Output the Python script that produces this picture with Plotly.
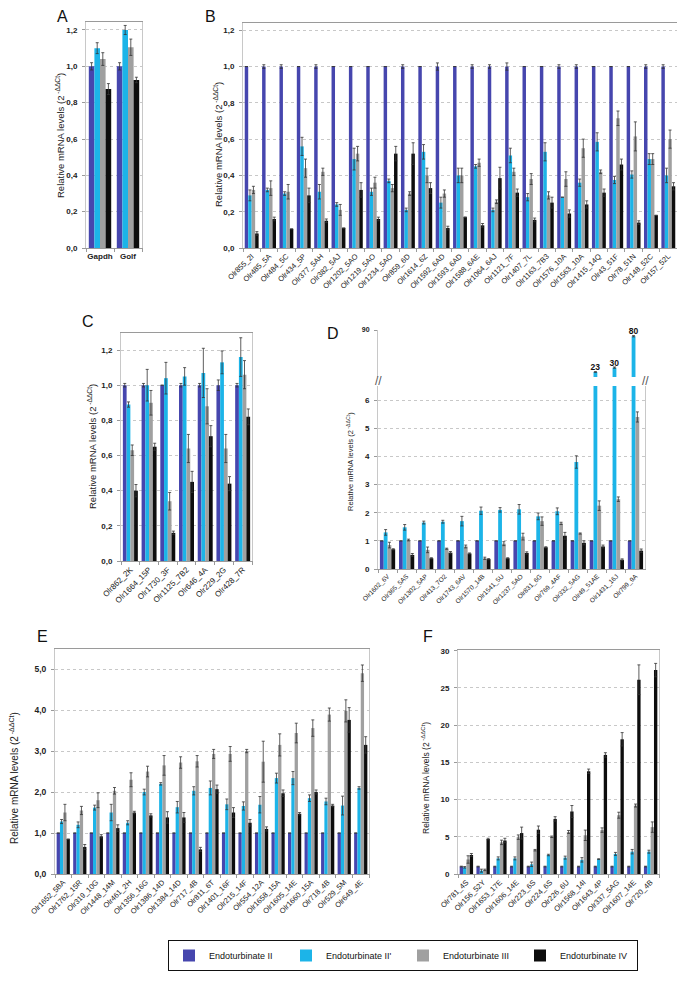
import plotly.graph_objects as go

# the page body adds an 8px margin, so the figure is sized to fit inside it
PAGE_W, PAGE_H = 685, 981
OFFSET = 8
W, H = PAGE_W - OFFSET, PAGE_H - OFFSET
FONT = "Liberation Sans, Arial, sans-serif"

SERIES = ["Endoturbinate II", "Endoturbinate II'", "Endoturbinate III", "Endoturbinate IV"]
COLORS = ["#4646ae", "#1cb4e8", "#a0a0a0", "#0d0d0d"]

# --- panel A
A_GENES = ["Gapdh", "Golf"]
A_II = [1.0, 1.0]
A_II_ERR = [0.02, 0.02]
A_IIP = [1.10, 1.20]
A_IIP_ERR = [0.03, 0.025]
A_III = [1.04, 1.105]
A_III_ERR = [0.035, 0.045]
A_IV = [0.875, 0.925]
A_IV_ERR = [0.03, 0.015]

# --- panel B
B_GENES = ["Olr855_2I", "Olr485_5A", "Olr484_5C", "Olr434_5P", "Olr377_5AH", "Olr382_5AJ",
           "Olr1202_5AO", "Olr1219_5AO", "Olr1234_5AO", "Olr859_6D", "Olr1614_6Z", "Olr1592_6AD",
           "Olr1593_6AD", "Olr1588_6AE", "Olr1064_6AJ", "Olr1121_7F", "Olr1407_7L", "Olr1163_7B3",
           "Olr1576_10A", "Olr1563_10A", "Olr1415_14Q", "Olr43_51F", "Olr78_51N", "Olr148_52C",
           "Olr157_52L"]
B_II = [1.0, 1.0, 1.0, 1.0, 1.0, 1.0, 1.0, 1.0, 1.0, 1.0, 1.0, 1.0, 1.0,
        1.0, 1.0, 1.0, 1.0, 1.0, 1.0, 1.0, 1.0, 1.0, 1.0, 1.0, 1.0]
B_II_ERR = [0.0, 0.01, 0.01, 0.0, 0.01, 0.0, 0.0, 0.0, 0.0, 0.01, 0.0, 0.02, 0.0,
            0.01, 0.01, 0.02, 0.0, 0.0, 0.01, 0.01, 0.0, 0.0, 0.0, 0.01, 0.01]
B_IIP = [0.29, 0.32, 0.30, 0.56, 0.31, 0.24, 0.49, 0.31, 0.37, 0.21, 0.53, 0.25, 0.40,
         0.45, 0.21, 0.51, 0.28, 0.53, 0.28, 0.36, 0.585, 0.375, 0.405, 0.49, 0.40]
B_IIP_ERR = [0.03, 0.01, 0.01, 0.05, 0.04, 0.01, 0.06, 0.02, 0.01, 0.01, 0.04, 0.03, 0.04,
             0.01, 0.01, 0.04, 0.02, 0.05, 0.0, 0.02, 0.05, 0.02, 0.02, 0.03, 0.04]
B_III = [0.32, 0.33, 0.31, 0.44, 0.42, 0.21, 0.52, 0.36, 0.33, 0.30, 0.40, 0.30, 0.40,
         0.47, 0.255, 0.42, 0.38, 0.29, 0.38, 0.55, 0.42, 0.715, 0.615, 0.49, 0.60]
B_III_ERR = [0.02, 0.04, 0.04, 0.05, 0.02, 0.03, 0.04, 0.03, 0.02, 0.01, 0.04, 0.02, 0.04,
             0.02, 0.01, 0.02, 0.03, 0.02, 0.04, 0.05, 0.01, 0.04, 0.08, 0.03, 0.05]
B_IV = [0.08, 0.16, 0.105, 0.29, 0.15, 0.11, 0.32, 0.16, 0.52, 0.52, 0.33, 0.11, 0.17,
        0.125, 0.385, 0.305, 0.155, 0.25, 0.19, 0.24, 0.305, 0.46, 0.14, 0.18, 0.34]
B_IV_ERR = [0.01, 0.01, 0.0, 0.04, 0.01, 0.0, 0.04, 0.01, 0.04, 0.06, 0.03, 0.01, 0.0,
            0.01, 0.06, 0.02, 0.01, 0.03, 0.02, 0.02, 0.02, 0.03, 0.01, 0.0, 0.02]

# --- panel C
C_GENES = ["Olr862_2K", "Olr1664_15P", "Olr1730_3F", "Olr1125_7B2", "Olr646_4A", "Olr229_2G", "Olr428_7R"]
C_II = [1.0, 1.0, 1.0, 1.0, 1.0, 1.0, 1.0]
C_II_ERR = [0.01, 0.01, 0.0, 0.01, 0.01, 0.03, 0.01]
C_IIP = [0.89, 1.0, 1.04, 1.05, 1.07, 1.13, 1.16]
C_IIP_ERR = [0.015, 0.09, 0.09, 0.05, 0.14, 0.065, 0.11]
C_III = [0.63, 0.90, 0.34, 0.64, 0.88, 0.64, 1.06]
C_III_ERR = [0.03, 0.07, 0.05, 0.08, 0.10, 0.08, 0.08]
C_IV = [0.40, 0.65, 0.16, 0.45, 0.71, 0.44, 0.82]
C_IV_ERR = [0.035, 0.02, 0.01, 0.06, 0.06, 0.04, 0.045]

# --- panel D (broken axis)
D_GENES = ["Olr1602_6V", "Olr365_5AS", "Olr1302_5AP", "Olr413_7O2", "Olr1743_6AV", "Olr1570_14B",
           "Olr1541_5U", "Olr1237_5AO", "Olr831_6G", "Olr769_4AF", "Olr332_5AG", "Olr49_51AE",
           "Olr1431_16J", "Olr799_9A"]
D_II = [1.0, 1.0, 1.0, 1.0, 1.0, 1.0, 1.0, 1.0, 1.0, 1.0, 1.0, 1.0, 1.0, 1.0]
D_II_ERR = [0.0, 0.0, 0.0, 0.0, 0.0, 0.0, 0.0, 0.0, 0.0, 0.0, 0.0, 0.0, 0.0, 0.0]
D_IIP = [1.3, 1.48, 1.65, 1.68, 1.7, 2.07, 2.1, 2.12, 1.87, 2.05, 3.8, 23, 30, 80]
D_IIP_ERR = [0.1, 0.1, 0.05, 0.05, 0.17, 0.13, 0.08, 0.17, 0.12, 0.12, 0.22, 0.5, 1.0, 1.0]
D_III = [0.85, 1.03, 0.68, 0.72, 0.8, 0.38, 0.9, 1.15, 1.7, 1.62, 1.26, 2.25, 2.48, 5.4]
D_III_ERR = [0.1, 0.03, 0.1, 0.02, 0.05, 0.04, 0.07, 0.12, 0.15, 0.04, 0.02, 0.17, 0.08, 0.18]
D_IV = [0.7, 0.5, 0.38, 0.58, 0.55, 0.35, 0.38, 0.57, 0.77, 1.18, 0.93, 0.8, 0.33, 0.65]
D_IV_ERR = [0.02, 0.05, 0.02, 0.04, 0.02, 0.02, 0.02, 0.04, 0.02, 0.12, 0.07, 0.05, 0.03, 0.06]
D_LOW_RANGE = [0, 6.5]
D_HIGH_RANGE = [15, 90]

# --- panel E
E_GENES = ["Olr1652_5BA", "Olr1762_15R", "Olr319_10G", "Olr1448_14M", "Olr461_2H", "Olr1356_16G",
           "Olr1386_14D", "Olr1384_14D", "Olr717_4B", "Olr811_6T", "Olr1401_16F", "Olr215_14F",
           "Olr554_12A", "Olr1658_15A", "Olr1605_14E", "Olr1660_15A", "Olr718_4B", "Olr529_5M",
           "Olr649_4E"]
E_II = [1.0, 1.0, 1.0, 1.0, 1.0, 1.0, 1.0, 1.0, 1.0, 1.0, 1.0, 1.0, 1.0, 1.0, 1.0, 1.0, 1.0, 1.0, 1.0]
E_II_ERR = [0.0, 0.0, 0.0, 0.0, 0.0, 0.0, 0.0, 0.0, 0.0, 0.0, 0.0, 0.0, 0.0, 0.0, 0.0, 0.0, 0.0, 0.0, 0.0]
E_IIP = [1.28, 1.2, 1.62, 1.5, 1.25, 2.0, 2.2, 1.63, 2.03, 2.1, 1.7, 1.66, 1.69, 2.34, 2.34,
         1.85, 1.77, 1.67, 2.1]
E_IIP_ERR = [0.05, 0.07, 0.06, 0.2, 0.05, 0.07, 0.03, 0.14, 0.1, 0.17, 0.13, 0.1, 0.2, 0.12,
             0.16, 0.08, 0.08, 0.23, 0.03]
E_III = [1.5, 1.55, 1.8, 2.03, 2.3, 2.5, 2.65, 2.72, 2.75, 2.93, 2.93, 3.0, 2.74, 3.15, 3.44,
         3.56, 3.89, 3.98, 4.9]
E_III_ERR = [0.2, 0.1, 0.18, 0.08, 0.17, 0.13, 0.24, 0.14, 0.14, 0.11, 0.18, 0.04, 0.5, 0.27,
             0.24, 0.2, 0.16, 0.27, 0.2]
E_IV = [0.85, 0.66, 0.92, 1.12, 1.5, 1.43, 1.38, 1.38, 0.6, 2.07, 1.5, 1.25, 1.1, 1.97, 1.47,
        2.0, 1.67, 3.76, 3.15]
E_IV_ERR = [0.0, 0.06, 0.04, 0.08, 0.03, 0.04, 0.14, 0.12, 0.05, 0.1, 0.12, 0.08, 0.05, 0.08,
            0.03, 0.05, 0.03, 0.3, 0.2]

# --- panel F
F_GENES = ["Olr781_4S", "Olr156_52Y", "Olr1653_17E", "Olr1606_14E", "Olr223_6S", "Olr224_6S",
           "Olr226_6U", "Olr1568_14I", "Olr1643_4P", "Olr337_5AG", "Olr1607_14E", "Olr720_4B"]
F_II = [1.0, 1.0, 1.0, 1.0, 1.0, 1.0, 1.0, 1.0, 1.0, 1.0, 1.0, 1.0]
F_II_ERR = [0.05, 0.05, 0.05, 0.05, 0.05, 0.05, 0.05, 0.05, 0.05, 0.05, 0.05, 0.05]
F_IIP = [0.9, 0.45, 2.1, 2.1, 1.3, 2.55, 2.2, 1.9, 2.0, 2.7, 3.0, 3.0]
F_IIP_ERR = [0.1, 0.2, 0.2, 0.2, 0.3, 0.1, 0.2, 0.3, 0.05, 0.2, 0.3, 0.2]
F_III = [1.95, 0.55, 4.25, 4.95, 3.2, 5.0, 5.65, 5.2, 5.9, 7.9, 9.2, 6.3]
F_III_ERR = [0.5, 0.1, 0.3, 0.3, 0.1, 0.1, 0.2, 0.7, 0.3, 0.4, 0.2, 0.7]
F_IV = [2.55, 4.7, 4.5, 5.5, 5.95, 7.4, 8.4, 13.8, 16.0, 18.1, 26.1, 27.4]
F_IV_ERR = [0.2, 0.1, 0.3, 0.8, 0.5, 0.3, 0.8, 0.3, 0.3, 0.9, 2.0, 0.9]

YTITLE = "Relative mRNA levels (2<sup> -ΔΔCt</sup>)"
GRID = "#c8c8c8"
FRAME = "#c8c8c8"
AXIS = "#9a9a9a"


def px(x):
    return (x - OFFSET) / W


def py(y):
    return 1 - (y - OFFSET) / H


def add_bars(fig, xa, ya, genes, vals, errs, legend=False):
    for i, (name, color, v, e) in enumerate(zip(SERIES, COLORS, vals, errs)):
        fig.add_trace(
            go.Bar(
                x=genes,
                y=v,
                name=name,
                marker=dict(color=color, line=dict(width=0)),
                width=0.2,
                offset=-0.4 + 0.2 * i,
                error_y=dict(type="data", array=e, color="#333333", thickness=0.8, width=1.5),
                xaxis=xa,
                yaxis=ya,
                showlegend=legend,
                legendgroup=name,
                hovertemplate="%{x}<br>" + name + ": %{y}<extra></extra>",
            )
        )


def xaxis_cfg(left, right, anchor, angle=-45, size=7.5, bold=False, mirror=True):
    return dict(
        domain=[px(left), px(right)],
        anchor=anchor,
        type="category",
        tickson="boundaries",
        ticks="outside",
        ticklen=3,
        tickcolor=AXIS,
        tickangle=angle,
        tickfont=dict(size=size, color="#222", weight="bold" if bold else "normal"),
        showline=True,
        linecolor=AXIS,
        mirror=mirror,
        showgrid=False,
        automargin=False,
        fixedrange=True,
    )


def yaxis_cfg(top, bottom, anchor, rng, dtick, fmt, size=8, mirror=True):
    return dict(
        domain=[py(bottom), py(top)],
        anchor=anchor,
        range=rng,
        dtick=dtick,
        tick0=0,
        tickformat=fmt,
        showgrid=True,
        gridcolor=GRID,
        griddash="dot",
        gridwidth=1,
        showline=True,
        linecolor=FRAME,
        mirror=mirror,
        ticks="outside",
        ticklen=3,
        tickcolor=AXIS,
        ticklabelstandoff=3,
        tickfont=dict(size=size, color="#222", weight="bold"),
        zeroline=False,
        automargin=False,
        fixedrange=True,
    )


fig = go.Figure()

add_bars(fig, "x", "y", A_GENES, [A_II, A_IIP, A_III, A_IV],
         [A_II_ERR, A_IIP_ERR, A_III_ERR, A_IV_ERR], legend=True)
add_bars(fig, "x2", "y2", B_GENES, [B_II, B_IIP, B_III, B_IV],
         [B_II_ERR, B_IIP_ERR, B_III_ERR, B_IV_ERR])
add_bars(fig, "x3", "y3", C_GENES, [C_II, C_IIP, C_III, C_IV],
         [C_II_ERR, C_IIP_ERR, C_III_ERR, C_IV_ERR])
add_bars(fig, "x4", "y4", D_GENES, [D_II, D_IIP, D_III, D_IV],
         [D_II_ERR, D_IIP_ERR, D_III_ERR, D_IV_ERR])
add_bars(fig, "x5", "y5", E_GENES, [E_II, E_IIP, E_III, E_IV],
         [E_II_ERR, E_IIP_ERR, E_III_ERR, E_IV_ERR])
add_bars(fig, "x6", "y6", F_GENES, [F_II, F_IIP, F_III, F_IV],
         [F_II_ERR, F_IIP_ERR, F_III_ERR, F_IV_ERR])

# upper part of the broken axis in D: only the bars that go past the break
d_high = [v if v > D_LOW_RANGE[1] else None for v in D_IIP]
d_high_err = [e if v > D_LOW_RANGE[1] else 0 for v, e in zip(D_IIP, D_IIP_ERR)]
fig.add_trace(
    go.Bar(
        x=D_GENES,
        y=d_high,
        marker=dict(color=COLORS[1], line=dict(width=0)),
        width=0.2,
        offset=-0.2,
        error_y=dict(type="data", array=d_high_err, color="#333333", thickness=0.8, width=1.5),
        text=[f"{v:g}" if v is not None else "" for v in d_high],
        textposition="outside",
        constraintext="none",
        cliponaxis=False,
        textfont=dict(size=8.5, color="#111", weight="bold"),
        xaxis="x4",
        yaxis="y7",
        showlegend=False,
        hovertemplate="%{x}: %{y}<extra></extra>",
    )
)

fig.update_layout(
    width=W,
    height=H,
    margin=dict(l=0, r=0, t=0, b=0),
    paper_bgcolor="white",
    plot_bgcolor="white",
    font=dict(family=FONT, color="#222"),
    separators=",.",
    barmode="overlay",
    xaxis=xaxis_cfg(86, 142, "y", angle=0, size=8, bold=True),
    yaxis=yaxis_cfg(22, 248, "x", [0, 1.244], 0.2, ".1f"),
    xaxis2=xaxis_cfg(243, 677, "y2", size=7.5),
    yaxis2=yaxis_cfg(23, 248, "x2", [0, 1.24], 0.2, ".1f"),
    xaxis3=xaxis_cfg(121, 252, "y3", size=8),
    yaxis3=yaxis_cfg(333, 561, "x3", [0, 1.297], 0.2, ".1f"),
    xaxis4=xaxis_cfg(378, 645, "y4", size=6.5, mirror=False),
    yaxis4=yaxis_cfg(386, 569, "x4", D_LOW_RANGE, 1, "d", size=8),
    yaxis7=dict(
        domain=[py(377), py(330)],
        anchor="x4",
        range=D_HIGH_RANGE,
        tickvals=[90],
        tickformat="d",
        showgrid=False,
        showline=True,
        linecolor=FRAME,
        ticks="outside",
        ticklen=3,
        tickcolor=AXIS,
        ticklabelstandoff=3,
        tickfont=dict(size=7, color="#222", weight="bold"),
        zeroline=False,
        automargin=False,
        fixedrange=True,
    ),
    xaxis5=xaxis_cfg(55, 369, "y5", size=7.5),
    yaxis5=yaxis_cfg(649, 874, "x5", [0, 5.49], 1, ".1f", size=8.5),
    xaxis6=xaxis_cfg(458, 659, "y6", size=7.5),
    yaxis6=yaxis_cfg(650, 874, "x6", [0, 30.1], 5, "d", size=8),
    legend=dict(
        orientation="h",
        x=px(168),
        xanchor="left",
        y=py(940),
        yanchor="top",
        bordercolor="#111",
        borderwidth=1,
        bgcolor="white",
        font=dict(size=9, color="#111"),
        entrywidth=72,
        entrywidthmode="pixels",
        traceorder="normal",
    ),
)

annotations = []
for letter, lx, ly in [("A", 62, 17), ("B", 210, 17), ("C", 88, 322),
                       ("D", 333, 333), ("E", 42, 636), ("F", 428, 636)]:
    annotations.append(dict(text=letter, x=px(lx), y=py(ly), xref="paper", yref="paper",
                            xanchor="center", yanchor="middle",
                            showarrow=False, font=dict(size=16, color="#111")))

for tx, ty, size in [(60, 136, 9.5), (218, 145, 9.5), (92, 447, 9.5),
                     (350, 462, 7.5), (14, 778, 10), (425, 778, 8.5)]:
    annotations.append(dict(text=YTITLE, x=px(tx), y=py(ty), xref="paper", yref="paper",
                            xanchor="center", yanchor="middle",
                            textangle=-90, showarrow=False, font=dict(size=size, color="#222")))

for bx in (378, 645):
    annotations.append(dict(text="//", x=px(bx), y=py(381), xref="paper", yref="paper",
                            xanchor="center", yanchor="middle",
                            showarrow=False, font=dict(size=12, color="#555")))

fig.update_layout(annotations=annotations)

fig.write_html("out.html")
